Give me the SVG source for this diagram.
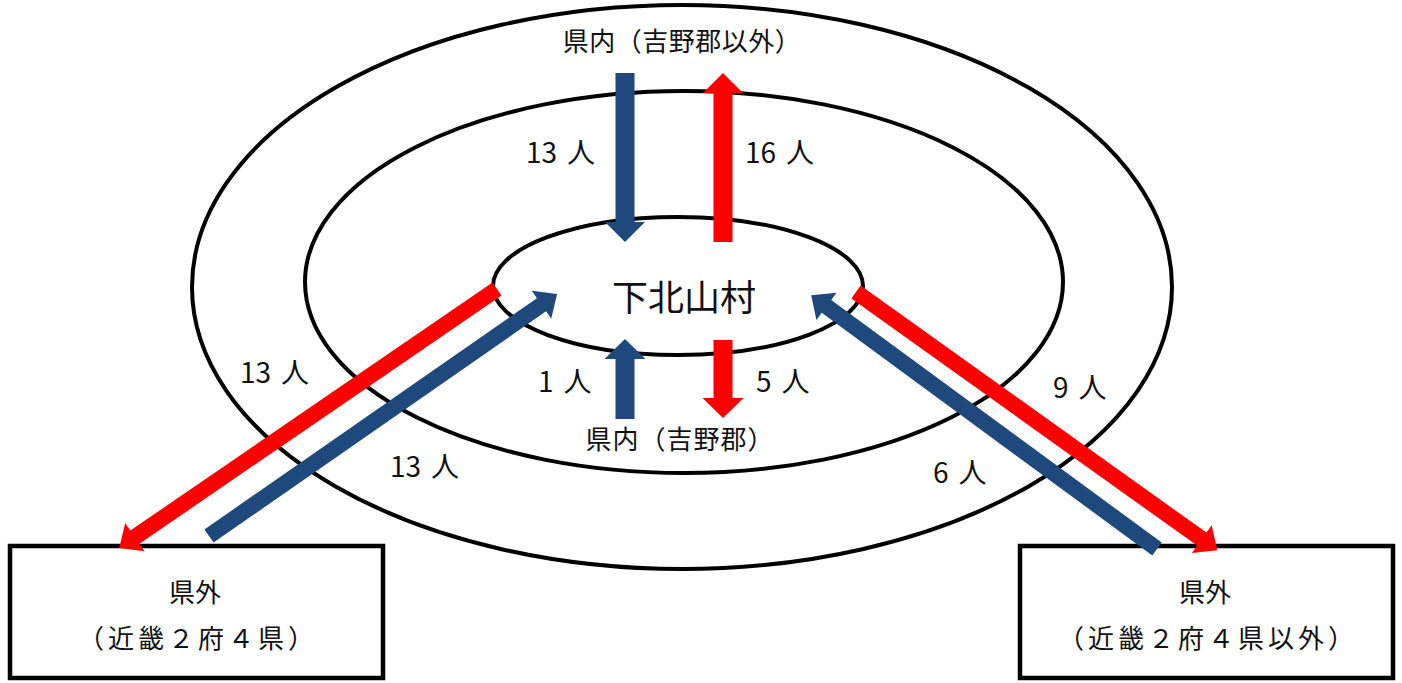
<svg xmlns="http://www.w3.org/2000/svg" width="1402" height="683" viewBox="0 0 1402 683">
<style>
.ring{fill:none;stroke:#000;stroke-width:4}
.box{fill:#fff;stroke:#000;stroke-width:4.5}
.t{font-family:"Noto Sans CJK JP","Noto Sans",sans-serif;fill:#111;text-anchor:middle}
.n{font-family:"Noto Sans CJK JP","Noto Sans",sans-serif;fill:#111;font-size:28px}
.in{fill:#1F497D}
.out{fill:#FF0000}
</style>
<rect width="1402" height="683" fill="#fff"/>
<g id="outer-ring"><ellipse class="ring" cx="682" cy="287" rx="490" ry="282"/>
<text class="t" x="682" y="51" font-size="26" letter-spacing="0.5">県内（吉野郡以外）</text></g>
<g id="middle-ring"><ellipse class="ring" cx="684" cy="282" rx="379" ry="191"/>
<text class="t" x="680" y="449" font-size="26" letter-spacing="1">県内（吉野郡）</text></g>
<g id="center"><ellipse class="ring" cx="678" cy="286" rx="185" ry="69"/>
<text class="t" x="684" y="311" font-size="36">下北山村</text></g>
<g id="box-left"><rect class="box" x="10" y="546" width="373" height="132"/>
<text class="t" x="195" y="602" font-size="26">県外</text>
<text class="t" x="198" y="648" font-size="26" letter-spacing="4">（近畿２府４県）</text></g>
<g id="box-right"><rect class="box" x="1020" y="546" width="373" height="132"/>
<text class="t" x="1205" y="602" font-size="26">県外</text>
<text class="t" x="1208" y="648" font-size="26" letter-spacing="4">（近畿２府４県以外）</text></g>
<g id="connectors">
<polygon class="in" points="615.5,73 634.5,73 634.5,222 645,222 625,242 605,222 615.5,222"/>
<polygon class="out" points="713.5,242 732.5,242 732.5,93 743,93 723,73 703,93 713.5,93"/>
<polygon class="in" points="615.5,419 634.5,419 634.5,359 645.5,359 625,339 604.5,359 615.5,359"/>
<polygon class="out" points="713.5,340 732.5,340 732.5,398 743.5,398 723,418 702.5,398 713.5,398"/>
<polygon class="out" transform="translate(497,289) rotate(145.58)" points="0,-8 439,-8 439,-17 458,0 439,17 439,8 0,8"/>
<polygon class="in" transform="translate(209,536) rotate(-34.81)" points="0,-8 405,-8 405,-17 424,0 405,17 405,8 0,8"/>
<polygon class="out" transform="translate(856,292) rotate(35.55)" points="0,-8 425,-8 425,-17 444,0 425,17 425,8 0,8"/>
<polygon class="in" transform="translate(1157,549) rotate(-143.72)" points="0,-8 410,-8 410,-17 429,0 410,17 410,8 0,8"/>
</g>
<g id="labels">
<text class="n" x="526" y="163">13<tspan dx="10">人</tspan></text>
<text class="n" x="745" y="163">16<tspan dx="10">人</tspan></text>
<text class="n" x="538" y="392">1<tspan dx="10">人</tspan></text>
<text class="n" x="756" y="392">5<tspan dx="10">人</tspan></text>
<text class="n" x="240" y="383">13<tspan dx="10">人</tspan></text>
<text class="n" x="390" y="477">13<tspan dx="10">人</tspan></text>
<text class="n" x="1053" y="398">9<tspan dx="10">人</tspan></text>
<text class="n" x="933" y="483">6<tspan dx="10">人</tspan></text>
</g>
</svg>
